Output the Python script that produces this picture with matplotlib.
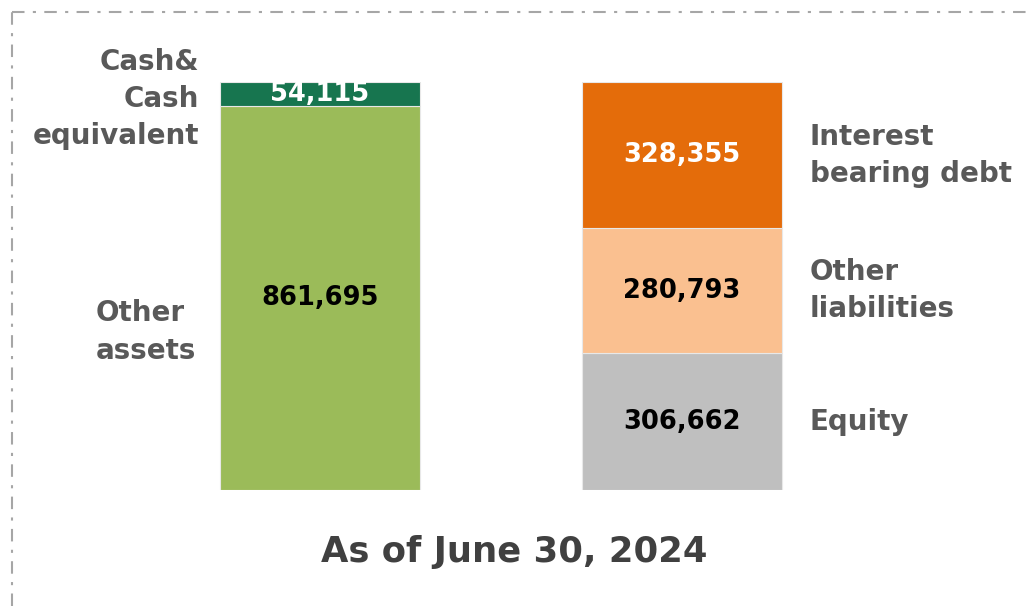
import matplotlib
matplotlib.use("Agg")
import matplotlib.pyplot as plt
from matplotlib.lines import Line2D

plt.rcParams['font.family'] = ['DejaVu Sans']

# values in millions
asset_names = ['Other\nassets', 'Cash&\nCash\nequivalent']
asset_values = [861695, 54115]
asset_colors = ['#9BBB59', '#17754F']
asset_text = ['#000000', '#FFFFFF']

liab_names = ['Equity', 'Other\nliabilities', 'Interest\nbearing debt']
liab_values = [306662, 280793, 328355]
liab_colors = ['#BFBFBF', '#FAC090', '#E46C0A']
liab_text = ['#000000', '#000000', '#FFFFFF']

title = 'As of June 30, 2024'

W, H = 1030, 606
fig = plt.figure(figsize=(W / 100, H / 100), dpi=100)
total = sum(asset_values)
ax = fig.add_axes([0, (H - 490) / H, 1, 408 / H])
ax.set_xlim(0, W)
ax.set_ylim(0, total)
ax.axis('off')

gray = '#595959'
fs_num = 18.5
fs_lbl = 20
lbl_style = dict(va='center', fontsize=fs_lbl, fontweight='bold', color=gray, linespacing=1.42)

# left column: assets
bottom = 0
for v, c, tc in zip(asset_values, asset_colors, asset_text):
    ax.bar(320, v, width=200, bottom=bottom, color=c, edgecolor='#E8E8E8', linewidth=0.8)
    ax.text(320, bottom + v / 2, f'{v:,}', ha='center', va='center',
            fontsize=fs_num, fontweight='bold', color=tc)
    bottom += v

fig.text(146 / W, 1 - 332 / H, asset_names[0], ha='center', multialignment='left', **lbl_style)
fig.text(199 / W, 1 - 99 / H, asset_names[1], ha='right', multialignment='right', **lbl_style)

# right column: liabilities and equity, names beside each block
bottom = 0
for name, v, c, tc in zip(liab_names, liab_values, liab_colors, liab_text):
    ax.bar(682, v, width=200, bottom=bottom, color=c, edgecolor='#E8E8E8', linewidth=0.8)
    ax.text(682, bottom + v / 2, f'{v:,}', ha='center', va='center',
            fontsize=fs_num, fontweight='bold', color=tc)
    ax.text(810, bottom + v / 2, name, ha='left', **lbl_style)
    bottom += v

fig.text(514 / W, 1 - 552 / H, title, ha='center', va='center',
         fontsize=25.5, fontweight='bold', color='#404040')

# dash-dot frame along the top and left
frame = dict(color='#A6A6A6', linewidth=1.5, linestyle=(0, (6, 4, 1.5, 4)))
fig.add_artist(Line2D([12 / W, 1], [1 - 12 / H, 1 - 12 / H], **frame))
fig.add_artist(Line2D([12 / W, 12 / W], [0, 1 - 12 / H], **frame))

fig.savefig('out.png', dpi=100)
